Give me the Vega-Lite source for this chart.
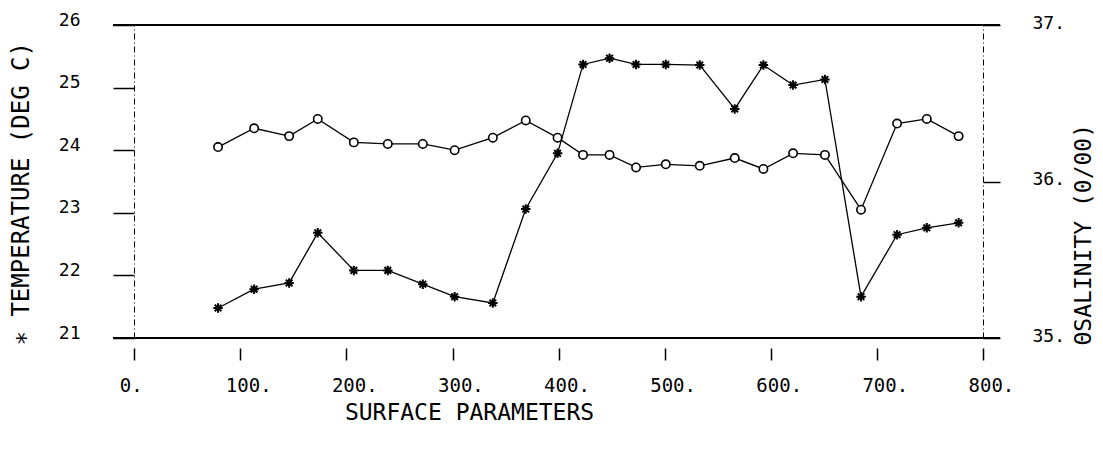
{
  "$schema": "https://vega.github.io/schema/vega-lite/v6.json",
  "width": 887,
  "height": 313,
  "autosize": "none",
  "padding": {"left": 113, "top": 25, "right": 103, "bottom": 115},
  "background": "white",
  "config": {
    "view": {"stroke": null},
    "axis": {
      "grid": false,
      "labelFont": "DejaVu Sans Mono",
      "labelFontSize": 18,
      "labelColor": "black",
      "labelOverlap": false,
      "labelBound": false,
      "labelFlush": false,
      "tickColor": "black",
      "domainColor": "black",
      "titleFont": "DejaVu Sans Mono",
      "titleFontWeight": "normal",
      "titleColor": "black"
    }
  },
  "data": {
    "values": [
      {"x": 79, "temp": 21.48, "sal": 36.22},
      {"x": 113, "temp": 21.78, "sal": 36.34},
      {"x": 146, "temp": 21.88, "sal": 36.29},
      {"x": 173, "temp": 22.68, "sal": 36.40},
      {"x": 207, "temp": 22.08, "sal": 36.25},
      {"x": 239, "temp": 22.08, "sal": 36.24},
      {"x": 272, "temp": 21.86, "sal": 36.24},
      {"x": 302, "temp": 21.66, "sal": 36.20},
      {"x": 338, "temp": 21.56, "sal": 36.28},
      {"x": 369, "temp": 23.06, "sal": 36.39},
      {"x": 399, "temp": 23.95, "sal": 36.28},
      {"x": 423, "temp": 25.37, "sal": 36.17},
      {"x": 448, "temp": 25.47, "sal": 36.17},
      {"x": 473, "temp": 25.37, "sal": 36.09},
      {"x": 501, "temp": 25.37, "sal": 36.11},
      {"x": 533, "temp": 25.36, "sal": 36.10},
      {"x": 566, "temp": 24.66, "sal": 36.15},
      {"x": 593, "temp": 25.36, "sal": 36.08},
      {"x": 621, "temp": 25.04, "sal": 36.18},
      {"x": 651, "temp": 25.13, "sal": 36.17},
      {"x": 685, "temp": 21.66, "sal": 35.82},
      {"x": 719, "temp": 22.65, "sal": 36.37},
      {"x": 747, "temp": 22.76, "sal": 36.40},
      {"x": 777, "temp": 22.84, "sal": 36.29}
    ]
  },
  "encoding": {
    "x": {
      "field": "x",
      "type": "quantitative",
      "scale": {"domain": [-20, 816], "nice": false, "zero": false},
      "axis": {
        "orient": "bottom",
        "offset": 10,
        "domain": false,
        "values": [0, 100, 200, 300, 400, 500, 600, 700, 800],
        "tickSize": 12,
        "tickWidth": 1.5,
        "labelExpr": "datum.value + '.'",
        "labelFontSize": 19,
        "labelAlign": "left",
        "labelOffset": -15,
        "labelPadding": 16,
        "labelBaseline": "top",
        "title": "SURFACE PARAMETERS",
        "titleFontSize": 23,
        "titleX": 356,
        "titleY": 64,
        "titleBaseline": "middle"
      }
    }
  },
  "layer": [
    {
      "encoding": {
        "y": {
          "field": "temp",
          "type": "quantitative",
          "scale": {"domain": [21, 26], "nice": false, "zero": false},
          "axis": {
            "orient": "left",
            "offset": -21,
            "values": [21, 22, 23, 24, 25, 26],
            "tickSize": 21,
            "tickWidth": 1.5,
            "domainDash": [6, 3, 1, 3],
            "domainWidth": 1,
            "labelPadding": 33,
            "labelBaseline": "alphabetic",
            "title": "∗ TEMPERATURE (DEG C)",
            "titleFontSize": 24,
            "titleAngle": 270,
            "titleAlign": "left",
            "titleBaseline": "middle",
            "titleX": -113,
            "titleY": 320
          }
        }
      },
      "layer": [
        {
          "mark": {"type": "rule", "color": "black", "strokeWidth": 1.8},
          "encoding": {"x": {"datum": -20, "type": "quantitative"}, "x2": {"datum": 816}, "y": {"datum": 26, "type": "quantitative"}}
        },
        {
          "mark": {"type": "rule", "color": "black", "strokeWidth": 1.8},
          "encoding": {"x": {"datum": -20, "type": "quantitative"}, "x2": {"datum": 816}, "y": {"datum": 21, "type": "quantitative"}}
        },
        {"mark": {"type": "line", "color": "black", "strokeWidth": 1.3}},
        {
          "mark": {
            "type": "point",
            "shape": "M-1,0L1,0M0,-1L0,1M-0.7,-0.7L0.7,0.7M-0.7,0.7L0.7,-0.7",
            "filled": false,
            "stroke": "black",
            "strokeWidth": 2,
            "size": 90,
            "opacity": 1
          }
        }
      ]
    },
    {
      "encoding": {
        "y": {
          "field": "sal",
          "type": "quantitative",
          "scale": {"domain": [35, 37], "nice": false, "zero": false},
          "axis": {
            "orient": "right",
            "offset": -17,
            "values": [35, 36, 37],
            "tickSize": 17,
            "tickWidth": 1.5,
            "domainDash": [6, 3, 1, 3],
            "domainWidth": 1,
            "labelExpr": "datum.value + '.'",
            "labelPadding": 32,
            "labelBaseline": "middle",
            "labelOffset": -2,
            "title": "ΘSALINITY (0/00)",
            "titleFontSize": 23,
            "titleAngle": 270,
            "titleAlign": "left",
            "titleBaseline": "middle",
            "titleX": 100,
            "titleY": 320
          }
        }
      },
      "layer": [
        {"mark": {"type": "line", "color": "black", "strokeWidth": 1.3}},
        {
          "mark": {
            "type": "point",
            "shape": "circle",
            "filled": true,
            "fill": "white",
            "stroke": "black",
            "strokeWidth": 1.6,
            "size": 70,
            "opacity": 1
          }
        }
      ]
    }
  ],
  "resolve": {"scale": {"y": "independent"}, "axis": {"y": "independent"}}
}
